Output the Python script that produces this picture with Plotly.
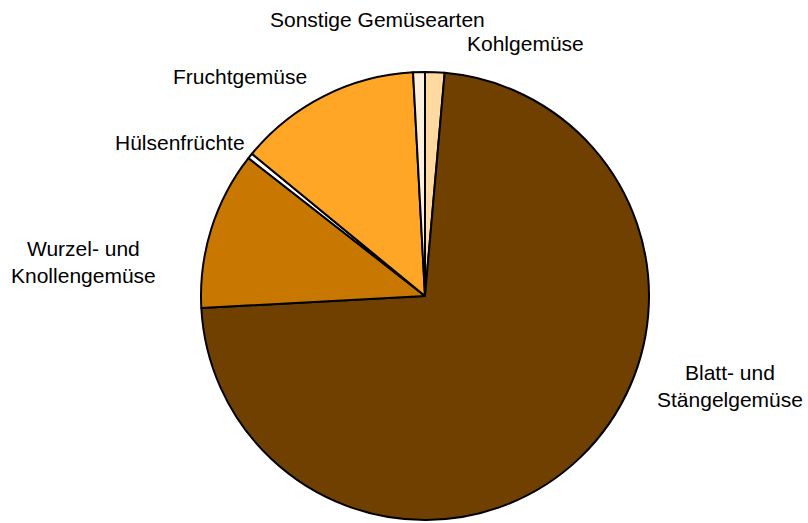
import plotly.graph_objects as go

W, H = 808, 523

categories = ["Kohlgemüse", "Blatt- und Stängelgemüse", "Wurzel- und Knollengemüse",
              "Hülsenfrüchte", "Fruchtgemüse", "Sonstige Gemüsearten"]
values = [1.4, 72.75, 11.4, 0.4, 13.2, 0.85]
colors = ["#FFD9A0", "#704000", "#C87800", "#FFFFFF", "#FFA626", "#FFF0DC"]

# label texts and their pixel anchors (layout only)
label_texts = ["Kohlgemüse", "Blatt- und<br>Stängelgemüse", "Wurzel- und<br>Knollengemüse",
               "Hülsenfrüchte", "Fruchtgemüse", "Sonstige Gemüsearten"]
label_pos = [(465, 43, "left"), (730, 386, "center"), (83, 262, "center"),
             (113, 142, "left"), (171, 76, "left"), (268, 20, "left")]

cx, cy, r = 425, 296, 224

fig = go.Figure(go.Pie(
    labels=categories,
    values=values,
    sort=False,
    direction="clockwise",
    rotation=0,
    marker=dict(colors=colors, line=dict(color="#000000", width=2)),
    textinfo="none",
    hoverinfo="label+percent",
    showlegend=False,
    domain=dict(x=[(cx - r) / W, (cx + r) / W], y=[1 - (cy + r) / H, 1 - (cy - r) / H]),
))

for txt, (px, py, al) in zip(label_texts, label_pos):
    fig.add_annotation(
        x=px / W, y=1 - py / H, xref="paper", yref="paper",
        text=txt, showarrow=False, xanchor=al, yanchor="middle", align="center",
        font=dict(family="Liberation Sans, Arial, sans-serif", size=21, color="#000000"),
    )

fig.update_layout(
    width=W, height=H,
    margin=dict(l=0, r=0, t=0, b=0),
    paper_bgcolor="#FFFFFF",
    plot_bgcolor="#FFFFFF",
)

fig.write_html("out.html", config={"displayModeBar": False},
               post_script="document.body.style.margin='0px';")
